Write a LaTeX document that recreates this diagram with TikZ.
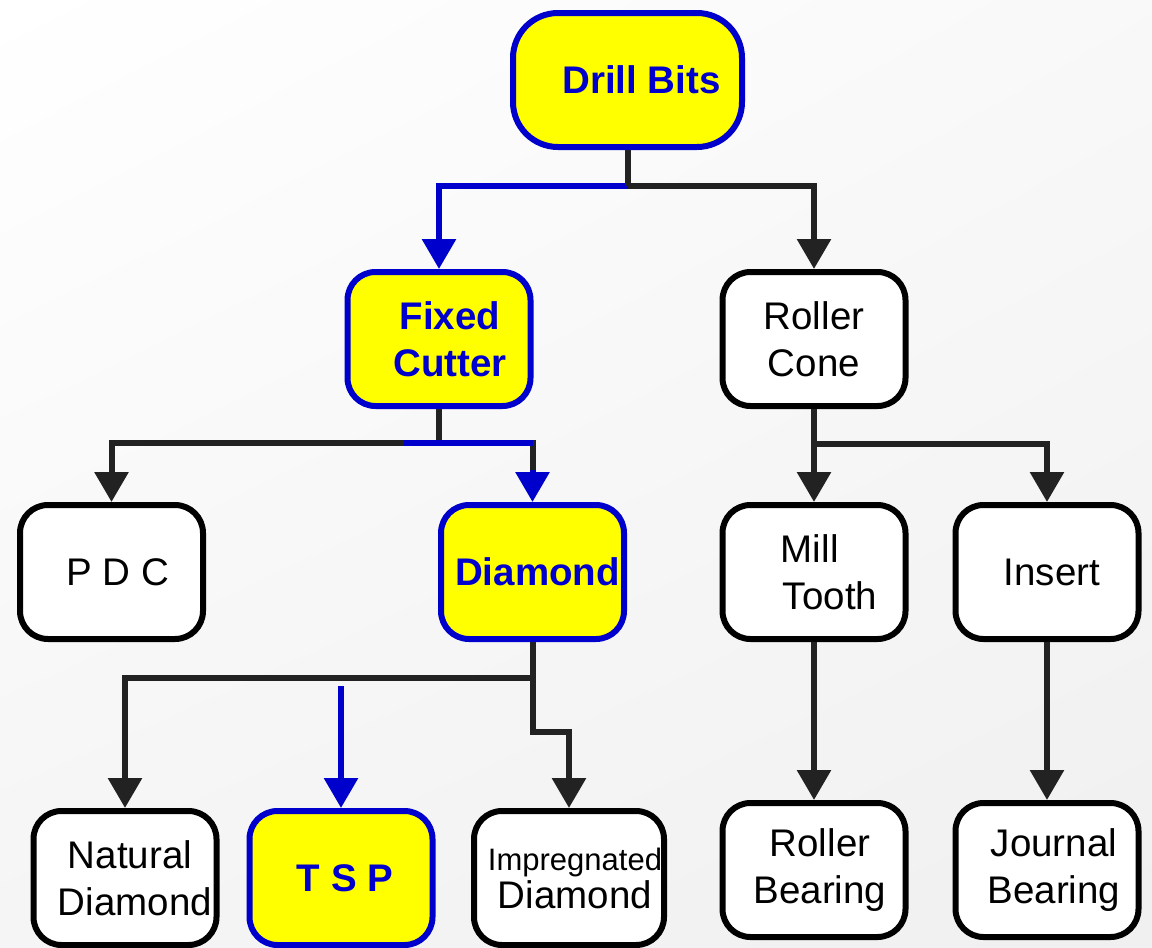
\documentclass[tikz,border=0pt]{standalone}
\usepackage{fontspec}
\setmainfont{Liberation Sans}
\usetikzlibrary{arrows.meta,calc,shadings}
\definecolor{bblue}{RGB}{0,0,204}
\definecolor{yel}{RGB}{255,255,0}
\definecolor{dk}{RGB}{34,34,34}
\tikzset{
 box/.style={draw=black, fill=white, line width=6pt, rounded corners=28pt, minimum width=183pt, minimum height=134pt, inner sep=0pt, align=center, font=\fontsize{38.5}{47}\selectfont},
 hbox/.style={box, draw=bblue, fill=yel, text=bblue, font=\fontsize{38.5}{47}\selectfont\bfseries},
 conn/.style={draw=dk, line width=6pt},
 bconn/.style={draw=bblue, line width=6pt},
 tip/.style={-{Triangle[width=33pt,length=30pt]}},
}
\begin{document}
\begin{tikzpicture}[x=1pt,y=-1pt]
\clip (0,0) rectangle (1152,948);
\shade[upper left=white, upper right=gray!5, lower left=gray!8, lower right=gray!12] (0,0) rectangle (1152,948);

\node[hbox, minimum width=229pt, rounded corners=45pt] (drill) at (627.5,80) {\hspace*{28pt}Drill Bits};
\node[hbox] (fixed) at (439,339) {\hspace*{22pt}Fixed\\\hspace*{22pt}Cutter};
\node[box] (roller) at (814,339) {Roller\\Cone};
\node[box] (pdc) at (111.5,572) {\hspace*{12pt}P D C};
\node[hbox] (diamond) at (532.5,572) {\hspace*{10pt}Diamond};
\node[box, align=left] (mill) at (814,572) {\hspace*{30pt}Mill\\\hspace*{32pt}Tooth};
\node[box] (insert) at (1047,572) {\hspace*{10pt}Insert};
\node[box] (natural) at (125,878) {\hspace*{10pt}Natural\\\hspace*{20pt}Diamond};
\node[hbox] (tsp) at (341,878) {\hspace*{8pt}T S P};
\node[box, minimum width=190pt] (impreg) at (569,878) {\hspace*{12pt}{\fontsize{31}{38}\selectfont Impregnated}\\[-9pt]\hspace*{12pt}Diamond};
\node[box] (rbear) at (814,870) {\hspace*{12pt}Roller\\\hspace*{12pt}Bearing};
\node[box] (jbear) at (1047,870) {\hspace*{14pt}Journal\\\hspace*{14pt}Bearing};

% Drill Bits branch
\draw[conn] (drill.south) -- ++(0,36) coordinate (j1);
\draw[conn,tip] (j1) -| (roller.north);
\draw[bconn,tip] (j1) -| (fixed.north);
\draw[conn] (drill.south) -- (j1);

% Fixed Cutter branch
\draw[conn] (fixed.south) -- ++(0,34) coordinate (j2);
\draw[conn,tip] (j2) -| (pdc.north);
\draw[conn] (j2) -| ([yshift=32pt]diamond.north);
\draw[bconn] ([xshift=-35pt]j2) -- (j2 -| diamond.north);
\draw[bconn,tip] ([yshift=32pt]diamond.north) -- (diamond.north);

% Roller Cone branch
\draw[conn] (roller.south) -- ++(0,35) coordinate (j4);
\draw[conn,tip] (roller.south) -- (mill.north);
\draw[conn,tip] (j4) -| (insert.north);

% Diamond branch
\draw[conn] (diamond.south) -- ++(0,36) coordinate (j3);
\draw[conn,tip] (j3) -| (natural.north);
\draw[conn,tip] (j3) -- ++(0,54) -| (impreg.north);
\coordinate (tspin) at (341,686);
\draw[bconn,tip] (tspin) -- (tsp.north);

% lower
\draw[conn,tip] (mill.south) -- (rbear.north);
\draw[conn,tip] (insert.south) -- (jbear.north);
\end{tikzpicture}
\end{document}
